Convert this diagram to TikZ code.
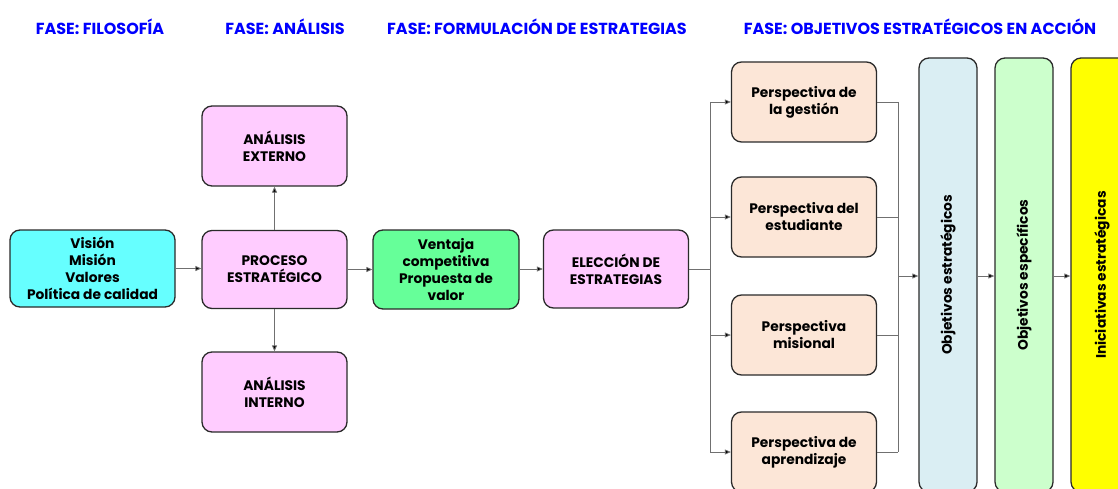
\documentclass[tikz,border=0pt]{standalone}
\usepackage{fontspec}
\setmainfont{Poppins}
\usetikzlibrary{arrows.meta}
\definecolor{hdr}{HTML}{0000FF}
\definecolor{cyanbox}{HTML}{66FFFF}
\definecolor{pinkbox}{HTML}{FFCCFF}
\definecolor{greenbox}{HTML}{66FF99}
\definecolor{peachbox}{HTML}{FCE6D7}
\definecolor{bluebox}{HTML}{DAEEF3}
\definecolor{lgreenbox}{HTML}{CCFFCC}
\definecolor{yellowbox}{HTML}{FFFF00}
\definecolor{edge}{HTML}{2A2A2A}
\definecolor{conn}{HTML}{707070}
\tikzset{
  box/.style={draw=edge, line width=1.3pt, rounded corners=10pt, align=center,
    font=\fontsize{13.8}{17}\selectfont\bfseries, text=black, inner sep=2pt},
  wide/.style={box, minimum width=145pt, minimum height=78pt},
  col/.style={box, minimum width=58pt, minimum height=434pt},
  hd/.style={font=\fontsize{16}{19}\selectfont\bfseries, text=hdr, inner sep=0pt},
  conline/.style={draw=conn, line width=0.8pt},
  arr/.style={conline, -{Triangle[length=6pt,width=5pt,fill=black]}}
}
\begin{document}
\begin{tikzpicture}[x=1pt,y=-1pt]
\useasboundingbox (0,0) rectangle (1118,489);
\clip (0,0) rectangle (1118,489);
% headers
\node[hd] (h1) at (100,27) {FASE: FILOSOFÍA};
\node[hd] (h2) at (285,27) {FASE: ANÁLISIS};
\node[hd] (h3) at (537,27) {FASE: FORMULACIÓN DE ESTRATEGIAS};
\node[hd] (h4) at (920,27) {FASE: OBJETIVOS ESTRATÉGICOS EN ACCIÓN};
% left boxes
\node[box, fill=cyanbox, minimum width=165pt, minimum height=77pt] (vis) at (92.5,268.5) {Visión\\Misión\\Valores\\Política de calidad};
\node[wide, fill=pinkbox] (proc) at (274.5,269.5) {PROCESO\\ESTRATÉGICO};
\node[wide, fill=pinkbox, minimum height=80pt] (ext) at (274.5,146) {ANÁLISIS\\EXTERNO};
\node[wide, fill=pinkbox, minimum height=80pt] (int) at (274.5,392) {ANÁLISIS\\INTERNO};
\node[wide, fill=greenbox, minimum width=146pt, minimum height=79pt] (ven) at (446,269.5) {Ventaja\\competitiva\\Propuesta de\\valor};
\node[wide, fill=pinkbox] (ele) at (616,269) {ELECCIÓN DE\\ESTRATEGIAS};
% perspectives
\node[wide, fill=peachbox, minimum height=80pt] (p1) at (804,102) {Perspectiva de\\la gestión};
\node[wide, fill=peachbox, minimum height=80pt] (p2) at (804,217) {Perspectiva del\\estudiante};
\node[wide, fill=peachbox, minimum height=80pt] (p3) at (804,335) {Perspectiva\\misional};
\node[wide, fill=peachbox, minimum height=80pt] (p4) at (804,452) {Perspectiva de\\aprendizaje};
% columns
\node[col, fill=bluebox] (oe) at (948,275) {\rotatebox{90}{Objetivos estratégicos}};
\node[col, fill=lgreenbox] (os) at (1024,275) {\rotatebox{90}{Objetivos específicos}};
\node[col, fill=yellowbox, minimum width=62pt] (ini) at (1102,275) {\rotatebox{90}{Iniciativas estratégicas}};
% connectors
\draw[arr] (vis.east) -- (proc.west |- vis.east);
\draw[arr] (proc.north) -- (ext.south);
\draw[arr] (proc.south) -- (int.north);
\draw[arr] (proc.east) -- (ven.west |- proc.east);
\draw[arr] (ven.east |- ele.west) -- (ele.west);
\coordinate (sp) at (710,269);
\draw[conline] (ele.east) -- (sp);
\draw[conline] (sp |- p1.west) -- (sp |- p4.west);
\foreach \p in {p1,p2,p3,p4} \draw[arr] (sp |- \p.west) -- (\p.west);
\coordinate (jn) at (898,276);
\foreach \p in {p1,p2,p3,p4} \draw[conline] (\p.east) -- (jn |- \p.east);
\draw[conline] (jn |- p1.east) -- (jn |- p4.east);
\draw[arr] (jn) -- (oe.west |- jn);
\draw[arr] (oe.east |- jn) -- (os.west |- jn);
\draw[arr] (os.east |- jn) -- (ini.west |- jn);
\end{tikzpicture}
\end{document}
